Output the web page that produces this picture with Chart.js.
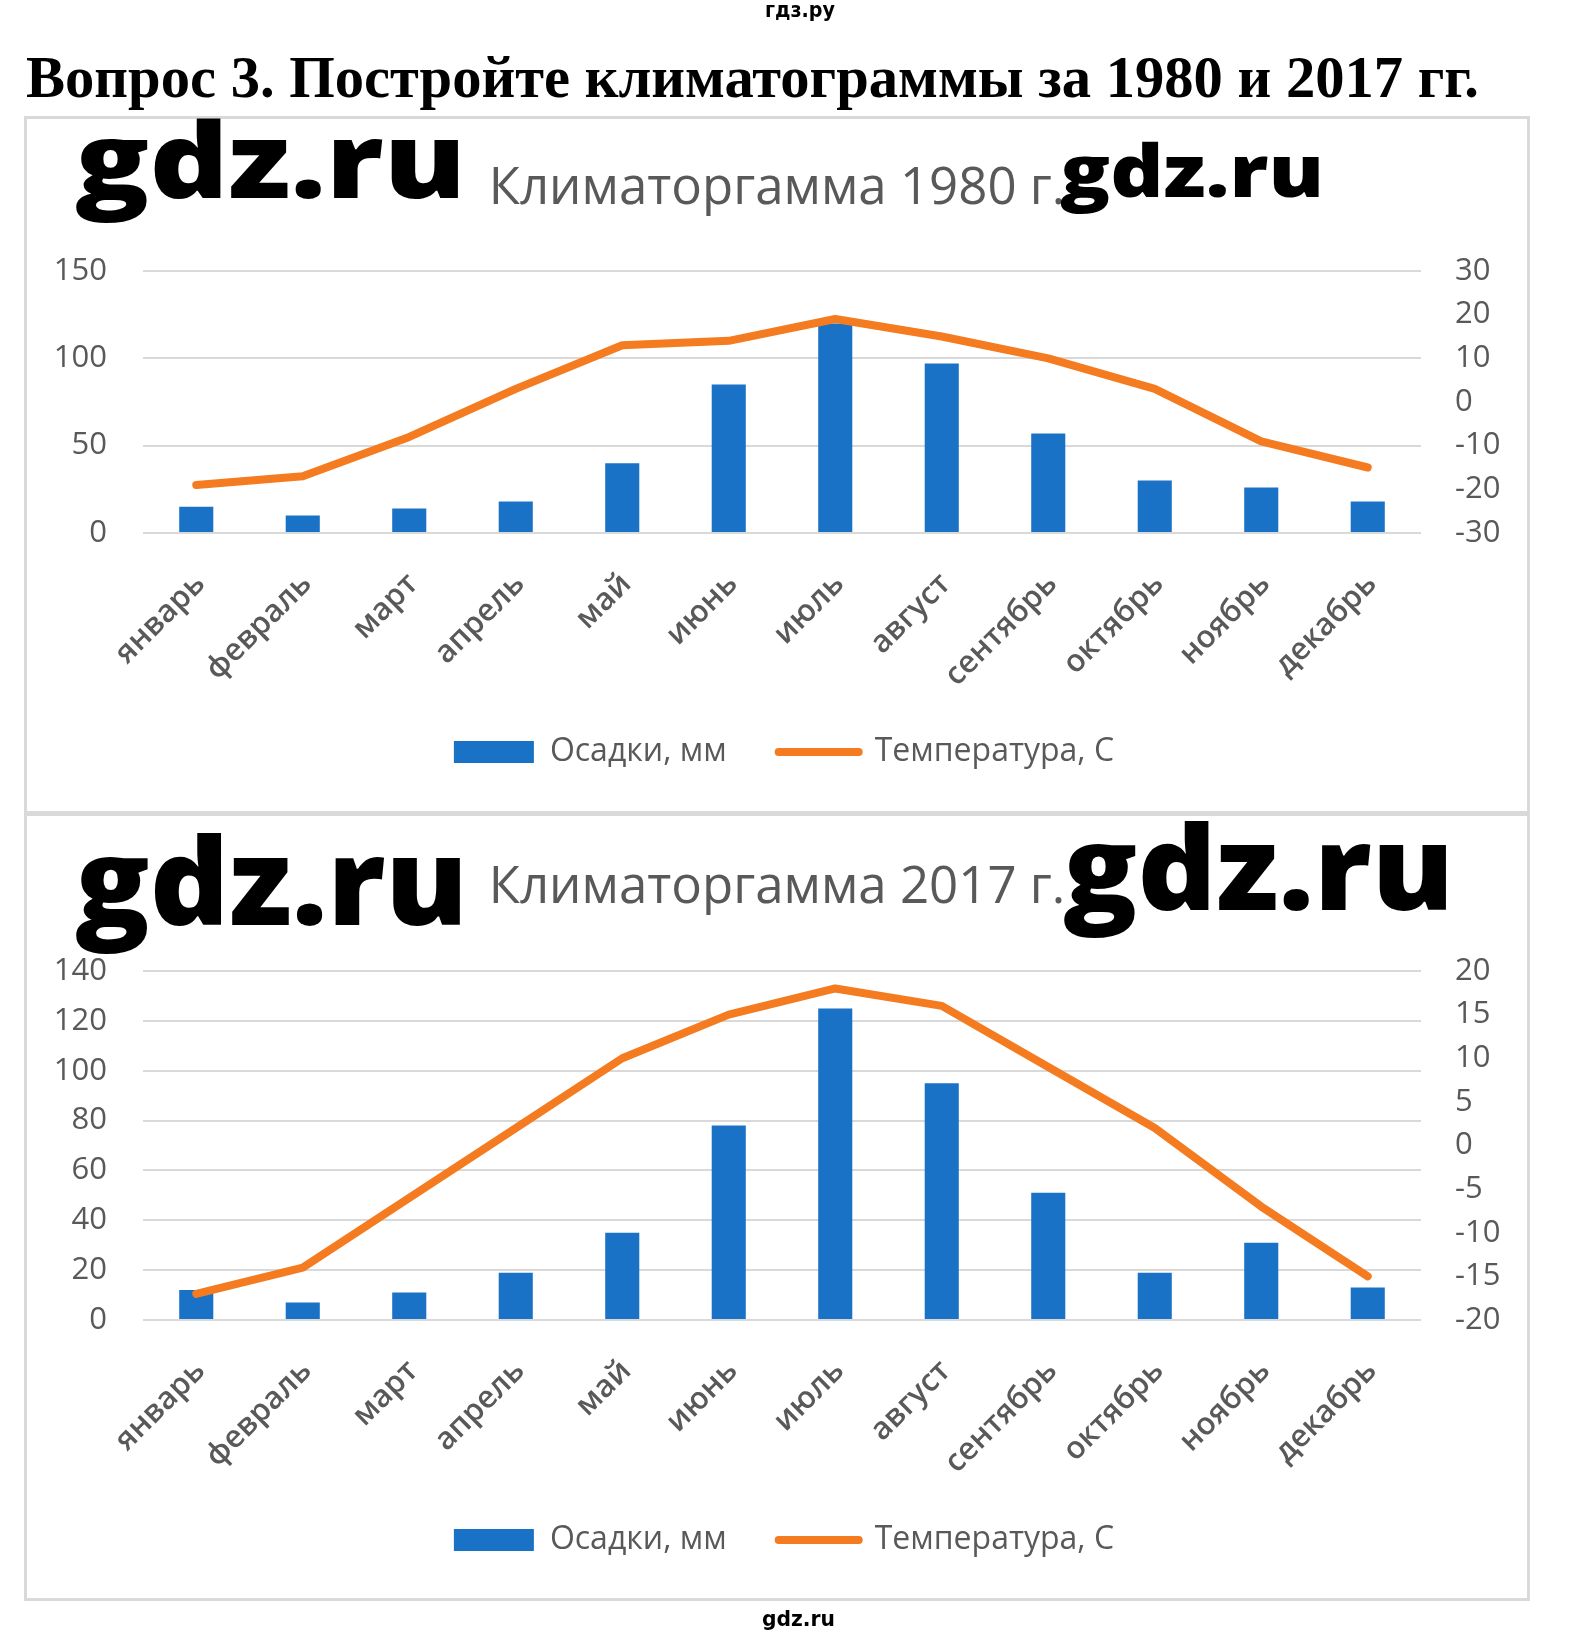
<!DOCTYPE html>
<html lang="ru">
<head>
<meta charset="utf-8">
<title>Климатограммы 1980 и 2017 гг.</title>
<script src="https://cdn.jsdelivr.net/npm/chart.js@4.4.1/dist/chart.umd.min.js"></script>
<style>
  html, body { margin: 0; padding: 0; background: #fff; }
  body { width: 1594px; height: 1636px; position: relative; overflow: hidden; }
  .box { position: absolute; left: 24px; width: 1506px; border: 3px solid #d9d9d9; box-sizing: border-box; }
  .chart { position: absolute; left: 24px; width: 1506px; }
  svg.overlay { position: absolute; left: 0; top: 0; pointer-events: none; }
  .wm { font-family: 'Open Sans', 'DejaVu Sans', sans-serif; font-weight: 800; fill: #000; }
</style>
</head>
<body>
<div class="box" style="top:116px;height:698px"></div>
<div class="box" style="top:813px;height:788px"></div>
<div class="chart" style="top:117px;height:740px"><canvas id="chart1980"></canvas></div>
<div class="chart" style="top:817px;height:800px"><canvas id="chart2017"></canvas></div>

<svg class="overlay" width="1594" height="1636" xmlns="http://www.w3.org/2000/svg">
  <text x="765" y="17" font-family="'Liberation Sans Narrow','DejaVu Sans Condensed',sans-serif" font-weight="bold" font-size="22" textLength="70" lengthAdjust="spacingAndGlyphs">гдз.ру</text>
  <text x="26" y="97" font-family="'Liberation Serif','Times New Roman',serif" font-weight="bold" font-size="59" textLength="1453" lengthAdjust="spacingAndGlyphs">Вопрос 3. Постройте климатограммы за 1980 и 2017 гг.</text>
  <text class="wm" x="75" y="198" font-size="104" textLength="391" lengthAdjust="spacingAndGlyphs">gdz.ru</text>
  <text class="wm" x="1060" y="197" font-size="73" textLength="264" lengthAdjust="spacingAndGlyphs">gdz.ru</text>
  <text class="wm" x="75" y="925" font-size="121" textLength="393" lengthAdjust="spacingAndGlyphs">gdz.ru</text>
  <text class="wm" x="1063" y="910" font-size="117" textLength="391" lengthAdjust="spacingAndGlyphs">gdz.ru</text>
  <text x="762" y="1626" font-family="'Liberation Sans Narrow','DejaVu Sans Condensed',sans-serif" font-weight="bold" font-size="22" textLength="73" lengthAdjust="spacingAndGlyphs">gdz.ru</text>
</svg>

<script>
const months = ["январь", "февраль", "март", "апрель", "май", "июнь", "июль", "август", "сентябрь", "октябрь", "ноябрь", "декабрь"];

// 1980
const rain1980 = [15, 10, 14, 18, 40, 85, 120, 97, 57, 30, 26, 18];
const temp1980 = [-19, -17, -8, 3, 13, 14, 19, 15, 10, 3, -9, -15];
const rainTicks1980 = [0, 50, 100, 150];
const tempTicks1980 = [-30, -20, -10, 0, 10, 20, 30];

// 2017
const rain2017 = [12, 7, 11, 19, 35, 78, 125, 95, 51, 19, 31, 13];
const temp2017 = [-17, -14, -6, 2, 10, 15, 18, 16, 9, 2, -7, -15];
const rainTicks2017 = [0, 20, 40, 60, 80, 100, 120, 140];
const tempTicks2017 = [-20, -15, -10, -5, 0, 5, 10, 15, 20];

const rainLabel = "Осадки, мм";
const tempLabel = "Температура, С";

Chart.defaults.font.family = "'Open Sans', sans-serif";
Chart.defaults.color = "#595959";

// the legend in the picture sits a little right of centre
const legendShift = {
  id: "legendShift",
  afterLayout(chart) {
    if (chart.legend) {
      chart.legend.left += 7;
      chart.legend.right += 7;
    }
  },
};

function makeChart(id, title, rain, temp, rainTicks, tempTicks, xHeight, padBottom, titleTop) {
  const ctx = document.getElementById(id).getContext("2d");
  return new Chart(ctx, {
    type: "bar",
    plugins: [legendShift],
    data: {
      labels: months,
      datasets: [
        {
          type: "bar",
          label: rainLabel,
          data: rain,
          backgroundColor: "#1a72c6",
          borderWidth: 0,
          barPercentage: 0.32,
          categoryPercentage: 1,
          pointStyle: "rect",
          yAxisID: "y",
          order: 1,
        },
        {
          type: "line",
          label: tempLabel,
          data: temp,
          borderColor: "#f47b20",
          backgroundColor: "#f47b20",
          borderWidth: 8,
          borderCapStyle: "round",
          borderJoinStyle: "round",
          tension: 0,
          pointRadius: 0,
          pointHoverRadius: 0,
          pointStyle: "line",
          yAxisID: "y1",
          order: 0,
        },
      ],
    },
    options: {
      responsive: true,
      maintainAspectRatio: false,
      animation: false,
      layout: { padding: { top: 0, left: 0, right: 0, bottom: padBottom } },
      scales: {
        x: {
          grid: { display: false },
          border: { display: false },
          ticks: { minRotation: 45, maxRotation: 45, padding: 25, labelOffset: 4, font: { size: 31, weight: 600 } },
          afterFit: (s) => { s.height = xHeight; },
        },
        y: {
          position: "left",
          min: rainTicks[0],
          max: rainTicks[rainTicks.length - 1],
          ticks: { stepSize: rainTicks[1] - rainTicks[0], padding: 36, font: { size: 31 } },
          grid: { color: "#d9d9d9", lineWidth: 2, drawTicks: false },
          border: { display: false },
          afterFit: (s) => { s.width = 119; },
        },
        y1: {
          position: "right",
          min: tempTicks[0],
          max: tempTicks[tempTicks.length - 1],
          ticks: { stepSize: tempTicks[1] - tempTicks[0], padding: 34, font: { size: 31 } },
          grid: { display: false, drawTicks: false },
          border: { display: false },
          afterFit: (s) => { s.width = 109; },
        },
      },
      plugins: {
        tooltip: { enabled: false },
        title: {
          display: true,
          text: title,
          color: "#595959",
          font: { size: 51, weight: "normal", lineHeight: 1.2 },
          padding: { top: titleTop, bottom: 154 - titleTop - 61.2 },
        },
        legend: {
          position: "bottom",
          align: "center",
          labels: {
            usePointStyle: true,
            pointStyleWidth: 80,
            boxHeight: 22,
            padding: 52,
            color: "#595959",
            font: { size: 32 },
            sort: (a, b) => a.datasetIndex - b.datasetIndex,
            generateLabels: (chart) =>
              Chart.defaults.plugins.legend.labels.generateLabels(chart).map((item) => {
                if (item.pointStyle === "line") {
                  item.lineCap = "round";
                  item.lineWidth = 8;
                  item.strokeStyle = "#f47b20";
                }
                return item;
              }),
          },
        },
      },
    },
  });
}

makeChart("chart1980", "Климаторгамма 1980 г.", rain1980, temp1980, rainTicks1980, tempTicks1980, 151, 79, 42);
makeChart("chart2017", "Климаторгамма 2017 г.", rain2017, temp2017, rainTicks2017, tempTicks2017, 152, 51, 41);
</script>
</body>
</html>
